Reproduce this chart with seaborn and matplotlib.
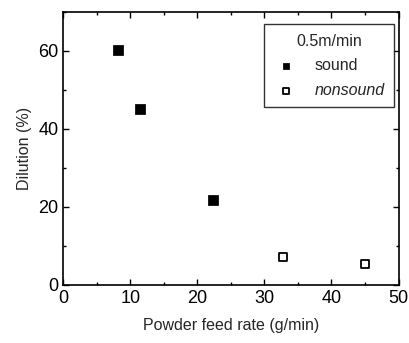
import pandas as pd
import matplotlib
matplotlib.use("Agg")
import matplotlib.pyplot as plt
import seaborn as sns
from matplotlib.ticker import MultipleLocator

# data
feed_rate = [8.2, 11.5, 22.3, 32.8, 45.0]
dilution = [60.2, 45.0, 21.8, 7.2, 5.3]
quality = ["sound", "sound", "sound", "nonsound", "nonsound"]

df = pd.DataFrame({"feed": feed_rate, "dilution": dilution, "quality": quality})

sns.set_theme(style="ticks")
plt.rcParams["font.family"] = ["Liberation Sans", "DejaVu Sans"]

fig, ax = plt.subplots(figsize=(4.1, 3.43), dpi=100)
fig.subplots_adjust(left=0.154, right=0.972, top=0.965, bottom=0.17)

sns.scatterplot(data=df[df.quality == "sound"], x="feed", y="dilution",
                marker="s", s=45, color="black", edgecolor="black",
                ax=ax, label="sound")
sns.scatterplot(data=df[df.quality == "nonsound"], x="feed", y="dilution",
                marker="s", s=40, facecolor="white", edgecolor="black",
                linewidth=1.3, ax=ax, label="nonsound")

ax.set_xlim(0, 50)
ax.set_ylim(0, 70)
ax.xaxis.set_major_locator(MultipleLocator(10))
ax.xaxis.set_minor_locator(MultipleLocator(5))
ax.yaxis.set_major_locator(MultipleLocator(20))
ax.yaxis.set_minor_locator(MultipleLocator(10))
ax.tick_params(which="both", direction="in", top=True, right=True,
               labelsize=13, width=1, colors="black")
ax.tick_params(which="major", length=4)
ax.tick_params(which="minor", length=2)
for sp in ax.spines.values():
    sp.set_linewidth(1.2)
    sp.set_color("black")

ax.set_xlabel("Powder feed rate (g/min)", fontsize=11.5, labelpad=8)
ax.set_ylabel("Dilution (%)", fontsize=11.5, labelpad=4)

leg = ax.legend(title="0.5m/min", loc="upper right", fontsize=11.5,
                title_fontsize=11.5, frameon=True, fancybox=False,
                edgecolor="black", borderpad=0.6, handletextpad=1.0,
                handlelength=1.6, labelspacing=0.6, markerscale=0.75,
                borderaxespad=0, bbox_to_anchor=(0.988, 0.956))
leg.get_frame().set_linewidth(1.0)
leg.get_texts()[1].set_style("italic")

fig.savefig("out.png", dpi=100)
